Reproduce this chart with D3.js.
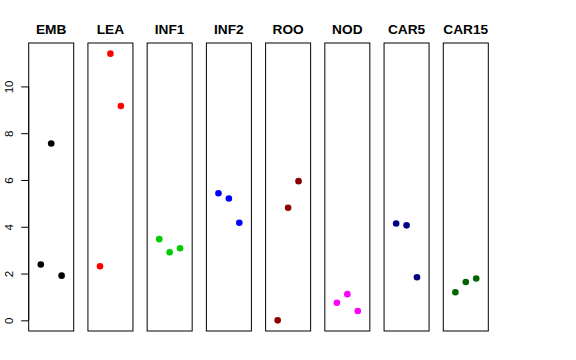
<!DOCTYPE html>
<html>
<head>
<meta charset="utf-8">
<script src="https://cdn.jsdelivr.net/npm/d3@7"></script>
<style>
  html, body { margin: 0; padding: 0; background: #fff; }
  svg { display: block; }
</style>
</head>
<body>
<svg id="chart" width="576" height="360"></svg>
<script>
const categories = ["EMB", "LEA", "INF1", "INF2", "ROO", "NOD", "CAR5", "CAR15"];
const replicates = [1, 2, 3];
const seriesValues = [
  [2.39, 7.56, 1.91],
  [2.31, 11.40, 9.16],
  [3.47, 2.91, 3.08],
  [5.43, 5.21, 4.17],
  [0.00, 4.81, 5.95],
  [0.75, 1.12, 0.40],
  [4.14, 4.06, 1.84],
  [1.20, 1.64, 1.79]
];
const colors = ["#000000", "#FF0000", "#00CD00", "#0000FF", "#8B0000", "#FF00FF", "#000080", "#006400"];
const yTicks = [0, 2, 4, 6, 8, 10];

(function () {
const svg = d3.select("#chart");
const font = "'Liberation Sans', Arial, Helvetica, sans-serif";

const plotTop = 43, plotBottom = 331;
const allVals = seriesValues.flat();
const yMin = d3.min(allVals), yMax = d3.max(allVals);
const yExt = (yMax - yMin) * 0.04;
const y = d3.scaleLinear().domain([yMin - yExt, yMax + yExt]).range([plotBottom, plotTop]);

const band = d3.scaleBand().domain(categories).range([28.7, 488.3]).paddingInner(0.24).paddingOuter(0);
const xIn = d3.scaleLinear().domain([-0.16, 4.16]).range([0, band.bandwidth()]);

categories.forEach((cat, i) => {
  const g = svg.append("g").attr("transform", `translate(${band(cat)},0)`);
  g.append("rect")
    .attr("x", 0).attr("y", plotTop)
    .attr("width", band.bandwidth()).attr("height", plotBottom - plotTop)
    .attr("fill", "none").attr("stroke", "#000").attr("stroke-width", 1);
  g.append("text")
    .attr("x", band.bandwidth() / 2).attr("y", 34)
    .attr("text-anchor", "middle")
    .attr("font-family", font).attr("font-weight", "bold").attr("font-size", 13.7)
    .text(cat);
  g.selectAll("circle").data(seriesValues[i]).enter().append("circle")
    .attr("cx", (d, j) => xIn(replicates[j]))
    .attr("cy", d => y(d))
    .attr("r", 3.3)
    .attr("fill", colors[i]);
});

const axisG = svg.append("g").attr("transform", `translate(${band(categories[0])},0)`);
const yAxis = d3.axisLeft(y).tickValues(yTicks).tickSize(7.5).tickPadding(0).tickFormat(d3.format("d"));
axisG.call(yAxis);
axisG.select(".domain").attr("d", `M0,${y(0)}V${y(10)}`).attr("stroke", "#000");
axisG.selectAll(".tick line").attr("stroke", "#000");
axisG.selectAll(".tick text").remove();
axisG.selectAll(".tick").append("text")
  .attr("transform", "translate(-16,0) rotate(-90)")
  .attr("text-anchor", "middle")
  .attr("fill", "#000")
  .attr("font-family", font).attr("font-size", 11.5)
  .text(d => d);
})();
</script>
</body>
</html>
